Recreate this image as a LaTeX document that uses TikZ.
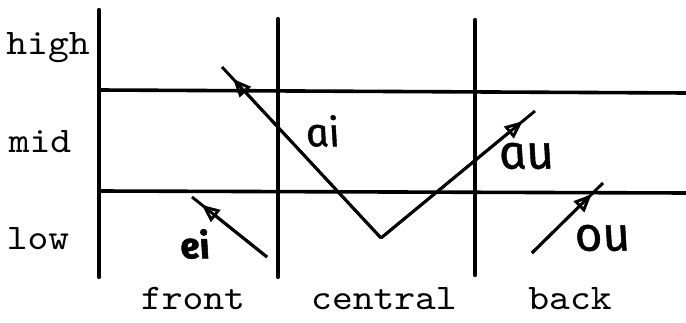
\documentclass[tikz,border=0pt]{standalone}
\usepackage{fontspec}
\setmonofont{lmmono10-regular.otf}[FakeStretch=1.1]
\newfontfamily\hand{Fira Sans}[ItalicFeatures={FakeSlant=-0.2, FakeBold=1.0}, BoldItalicFeatures={FakeSlant=-0.2, FakeBold=1.5}]
\usetikzlibrary{arrows.meta,calc}
\tikzset{
  grid/.style={line width=4.2pt, line cap=round},
  hgrid/.style={line width=3.6pt},
  tw/.style={font=\fontsize{36}{40}\selectfont\ttfamily, inner sep=0pt, anchor=base},
  hw/.style={font=\fontsize{#1}{#1}\selectfont\hand\itshape, inner sep=0pt},
  glide/.style={line width=2.9pt},
  glidehead/.style={line width=2.9pt, -{Triangle[open, length=18pt, width=15pt]}}
}
\begin{document}
\begin{tikzpicture}[x=1pt,y=-1pt]
\useasboundingbox (0,0) rectangle (686,323);
% grid coordinates
\coordinate (v1t) at (99,10);  \coordinate (v1b) at (99,277);
\coordinate (v2t) at (278,19); \coordinate (v2b) at (278,277);
\coordinate (v3t) at (475,20); \coordinate (v3b) at (475,275);
\coordinate (h1l) at (99,90);  \coordinate (h1r) at (686,93);
\coordinate (h2l) at (99,191); \coordinate (h2r) at (686,193);
\draw[grid] (v1t) -- (v1b);
\draw[grid] (v2t) -- (v2b);
\draw[grid] (v3t) -- (v3b);
\draw[hgrid] (h1l) -- (h1r);
\draw[hgrid] (h2l) -- (h2r);
% axis labels
\node[tw] (high) at (48,55) {high};
\node[tw] (mid) at (40,153) {mid};
\node[tw] (low) at (38,250) {low};
\node[tw] (front) at (193,309) {front};
\node[tw] (central) at (384,309) {central};
\node[tw] (back) at (570,309) {back};
% glides
\coordinate (vtx) at (381,238);
\coordinate (aiend) at (222,67);
\coordinate (auend) at (535,111);
\coordinate (eistart) at (267,257);
\coordinate (eiend) at (192,197);
\coordinate (oustart) at (532,253);
\coordinate (ouend) at (603,183);
\coordinate (aitip) at ($(vtx)!0.93!(aiend)$);
\coordinate (autip) at ($(vtx)!0.92!(auend)$);
\coordinate (eitip) at ($(eistart)!0.87!(eiend)$);
\coordinate (outip) at ($(oustart)!0.84!(ouend)$);
\draw[glide] (vtx) -- (aiend);
\draw[glide] (vtx) -- (auend);
\draw[glide] (eistart) -- (eiend);
\draw[glide] (oustart) -- (ouend);
\draw[glidehead] (vtx) -- (aitip);
\draw[glidehead] (vtx) -- (autip);
\draw[glidehead] (eistart) -- (eitip);
\draw[glidehead] (oustart) -- (outip);
% glide labels
\node[hw=40] (ai) at (325,131) {ai};
\node[hw=48] (au) at (529,156) {au};
\node[hw=36, font=\fontsize{36}{36}\selectfont\hand\bfseries\itshape] (ei) at (197,244) {ei};
\node[hw=48] (ou) at (605,238) {ou};
\end{tikzpicture}
\end{document}
